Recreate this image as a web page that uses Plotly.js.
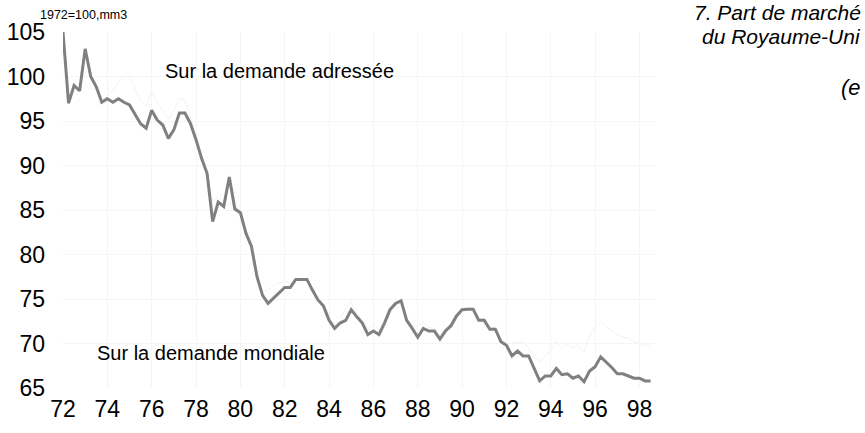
<!DOCTYPE html>
<html>
<head>
<meta charset="utf-8">
<script src="https://cdn.plot.ly/plotly-3.0.1.min.js"></script>
<style>html,body{margin:0;padding:0;background:#fff;}#chart{width:865px;height:433px;}</style>
</head>
<body>
<div id="chart"></div>
<script>
// Quarterly series, 1972Q1 .. 1998Q3 (1972 = 100)
var startYear = 1972;
var adressee = [
 105.0, 97.0, 99.0, 98.4, 103.1, 100.0, 98.85, 97.1,
 97.5, 97.1, 97.5, 97.1, 96.8, 95.7, 94.7, 94.2,
 96.2, 95.1, 94.55, 93.05, 94.0, 95.9, 95.9, 94.7,
 92.9, 90.8, 89.1, 83.7, 85.9, 85.4, 88.7, 85.1,
 84.7, 82.4, 80.9, 77.5, 75.4, 74.5, 75.1, 75.6,
 76.3, 76.3, 77.2, 77.2, 77.2, 76.0, 74.9, 74.2,
 72.6, 71.7, 72.3, 72.6, 73.8, 73.0, 72.3, 71.0,
 71.4, 71.0, 72.3, 73.8, 74.5, 74.8, 72.6, 71.7,
 70.7, 71.7, 71.4, 71.4, 70.5, 71.4, 72.0, 73.1,
 73.8, 73.85, 73.85, 72.6, 72.6, 71.6, 71.6, 70.2,
 69.8, 68.6, 69.15, 68.6, 68.6, 67.2, 65.8, 66.35,
 66.35, 67.2, 66.5, 66.6, 66.1, 66.35, 65.7, 66.9,
 67.4, 68.5, 67.95, 67.3, 66.6, 66.6, 66.35, 66.1,
 66.1, 65.8, 65.8
];
var mondiale = [
 105.0, 97.0, 99.0, 98.4, 103.1, 100.0, 98.9, 97.3,
 97.8, 98.5, 99.4, 100.0, 100.0, 98.6, 97.3, 96.6,
 98.3, 97.0, 96.2, 95.2, 96.2, 97.5, 97.4, 95.5,
 93.3, 91.0, 89.4, 86.0, 86.5, 85.8, 88.9, 85.4,
 85.0, 82.7, 81.2, 77.9, 75.9, 76.0, 76.5, 76.8,
 77.0, 76.8, 77.3, 77.3, 77.3, 76.2, 75.1, 74.4,
 72.9, 72.1, 72.6, 74.0, 74.7, 73.3, 72.6, 71.5,
 72.3, 71.4, 72.6, 74.0, 74.7, 75.0, 72.9, 72.0,
 72.0, 72.45, 71.8, 71.7, 70.9, 71.7, 72.3, 73.3,
 74.0, 74.0, 74.0, 72.8, 72.8, 71.8, 71.8, 70.5,
 70.0, 70.0, 70.1, 70.2, 69.5, 68.4, 68.0, 68.6,
 69.2, 70.2, 69.45, 69.9, 69.5, 69.8, 69.1, 70.8,
 71.8, 72.45, 71.9, 71.4, 71.0, 70.7, 70.6, 70.2,
 70.0, 69.8, 69.7
];
var tickYears = [1972, 1974, 1976, 1978, 1980, 1982, 1984, 1986, 1988, 1990, 1992, 1994, 1996, 1998];
var tickLabels = ['72', '74', '76', '78', '80', '82', '84', '86', '88', '90', '92', '94', '96', '98'];
var yTicks = [65, 70, 75, 80, 85, 90, 95, 100, 105];

var xq = adressee.map(function (v, i) { return startYear + i / 4; });

var traces = [
  {x: xq, y: mondiale, type: 'scatter', mode: 'lines', name: 'Sur la demande mondiale',
   line: {color: '#f3f3f3', width: 1}, hoverinfo: 'skip'},
  {x: xq, y: adressee, type: 'scatter', mode: 'lines', name: 'Sur la demande adressée',
   line: {color: '#808080', width: 3}}
];

var FONT = 'Liberation Sans, Arial, sans-serif';
var layout = {
  width: 865, height: 433,
  margin: {l: 63, r: 210, t: 32, b: 45, pad: 0},
  paper_bgcolor: '#ffffff', plot_bgcolor: '#ffffff',
  showlegend: false,
  font: {family: FONT, color: '#000', size: 20},
  xaxis: {
    range: [1972, 1998.7], tickvals: tickYears, ticktext: tickLabels,
    showgrid: true, gridcolor: '#f5f5f5', gridwidth: 1, zeroline: false,
    showline: false, ticks: '', ticklabelstandoff: 5,
    tickfont: {family: FONT, size: 23, color: '#000'}
  },
  yaxis: {
    range: [65, 105], tickvals: yTicks,
    showgrid: true, gridcolor: '#f5f5f5', gridwidth: 1, zeroline: false,
    showline: false, ticks: '', ticklabelstandoff: 17,
    tickfont: {family: FONT, size: 23, color: '#000'}
  },
  annotations: [
    {text: '1972=100,mm3', xref: 'paper', yref: 'paper', x: (38 - 63) / 592, y: (388 - 15) / 356,
     xanchor: 'left', yanchor: 'middle', showarrow: false, font: {family: FONT, size: 12.5, color: '#000'}},
    {text: '<i>7. Part de marché</i>', xref: 'paper', yref: 'paper', x: (863 - 63) / 592, y: (388 - 12) / 356,
     xanchor: 'right', yanchor: 'middle', showarrow: false, font: {family: FONT, size: 21, color: '#000'}},
    {text: '<i>du Royaume-Uni</i>', xref: 'paper', yref: 'paper', x: (863 - 63) / 592, y: (388 - 36) / 356,
     xanchor: 'right', yanchor: 'middle', showarrow: false, font: {family: FONT, size: 21, color: '#000'}},
    {text: '<i>(e</i>', xref: 'paper', yref: 'paper', x: (863 - 63) / 592, y: (388 - 87) / 356,
     xanchor: 'right', yanchor: 'middle', showarrow: false, font: {family: FONT, size: 22, color: '#000'}},
    {text: 'Sur la demande adressée', xref: 'paper', yref: 'paper', x: (163 - 63) / 592, y: (388 - 71) / 356,
     xanchor: 'left', yanchor: 'middle', showarrow: false, font: {family: FONT, size: 20, color: '#000'}},
    {text: 'Sur la demande mondiale', xref: 'paper', yref: 'paper', x: (95 - 63) / 592, y: (388 - 353) / 356,
     xanchor: 'left', yanchor: 'middle', showarrow: false, font: {family: FONT, size: 20, color: '#000'}}
  ]
};

Plotly.newPlot('chart', traces, layout, {displayModeBar: false, staticPlot: true});
</script>
</body>
</html>
